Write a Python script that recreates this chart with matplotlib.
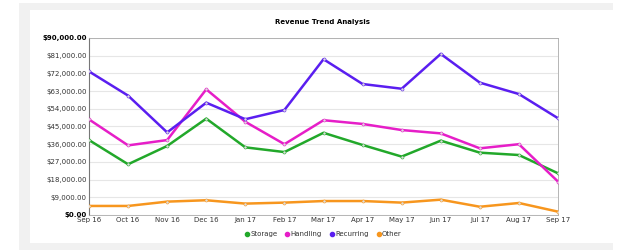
import matplotlib
matplotlib.use('Agg')
import matplotlib.pyplot as plt
from matplotlib.patches import Rectangle
from matplotlib.lines import Line2D

months = ['Sep 16', 'Oct 16', 'Nov 16', 'Dec 16', 'Jan 17', 'Feb 17', 'Mar 17',
          'Apr 17', 'May 17', 'Jun 17', 'Jul 17', 'Aug 17', 'Sep 17']
storage = [38100, 25800, 35100, 49000, 34400, 32000, 41800,
           35600, 29700, 37800, 31700, 30500, 21200]
handling = [48600, 35400, 38100, 63900, 47400, 36000, 48200,
            46300, 43200, 41500, 33900, 36000, 17000]
recurring = [73000, 60700, 42000, 57100, 48700, 53400, 79200,
             66600, 64200, 81900, 67300, 61500, 49200]
other = [4600, 4600, 6800, 7500, 5800, 6300, 7100,
         7100, 6300, 7800, 4200, 6100, 1700]
y_ticks = [0, 9000, 18000, 27000, 36000, 45000, 54000, 63000, 72000, 81000, 90000]

series = [('Storage', storage, '#22a82a'),
          ('Handling', handling, '#e61ec8'),
          ('Recurring', recurring, '#5a1ef0'),
          ('Other', other, '#f7961e')]


def main():
    fig = plt.figure(figsize=(6.18, 2.52), dpi=100)
    fig.patch.set_facecolor('white')
    # grey frame and white panel
    fig.patches.append(Rectangle((19 / 618, 1 - 250 / 252), 594 / 618, 247 / 252,
                                 transform=fig.transFigure, facecolor='#f1f1f1',
                                 edgecolor='none', zorder=-2))
    fig.patches.append(Rectangle((30 / 618, 1 - 243 / 252), 583 / 618, 233 / 252,
                                 transform=fig.transFigure, facecolor='white',
                                 edgecolor='none', zorder=-1))

    ax = fig.add_axes([89 / 618, 1 - 215 / 252, 469 / 618, 177 / 252])
    x = list(range(len(months)))
    for name, vals, color in series:
        ax.plot(x, vals, color=color, lw=1.8, marker='o', ms=2.2,
                mfc='#dddddd', mec=color, mew=0.4, label=name, zorder=3)

    ax.set_xlim(0, len(months) - 1)
    ax.set_ylim(0, 90000)
    ax.set_yticks(y_ticks)
    ax.set_yticklabels(['${:,.2f}'.format(v) for v in y_ticks])
    for lbl in ax.get_yticklabels():
        lbl.set_fontsize(5)
        lbl.set_color('#333333')
    ax.get_yticklabels()[0].set_fontweight('bold')
    ax.get_yticklabels()[-1].set_fontweight('bold')
    ax.get_yticklabels()[0].set_color('black')
    ax.get_yticklabels()[-1].set_color('black')
    ax.set_xticks(x)
    ax.set_xticklabels(months, fontsize=5, color='#333333')
    ax.tick_params(axis='both', length=0, pad=1.5)
    ax.grid(axis='y', color='#e6e6e6', lw=0.8)
    ax.set_axisbelow(True)
    for side in ['top', 'right', 'bottom']:
        ax.spines[side].set_color('#aaaaaa')
        ax.spines[side].set_linewidth(0.6)
    ax.spines['left'].set_color('#777777')
    ax.spines['left'].set_linewidth(0.8)

    fig.text(323 / 618, 1 - 22 / 252, 'Revenue Trend Analysis', ha='center',
             va='center', fontsize=5, fontweight='bold')

    handles = [Line2D([], [], ls='none', marker='o', ms=3, color=c) for _, _, c in series]
    fig.legend(handles, [s[0] for s in series], loc='center',
               bbox_to_anchor=(323 / 618, 1 - 234 / 252), ncol=4, frameon=False,
               fontsize=5, handletextpad=0.1, columnspacing=1.0, handlelength=0.8,
               labelcolor='#333333')

    fig.savefig('out.png', dpi=100)


if __name__ == '__main__':
    main()
